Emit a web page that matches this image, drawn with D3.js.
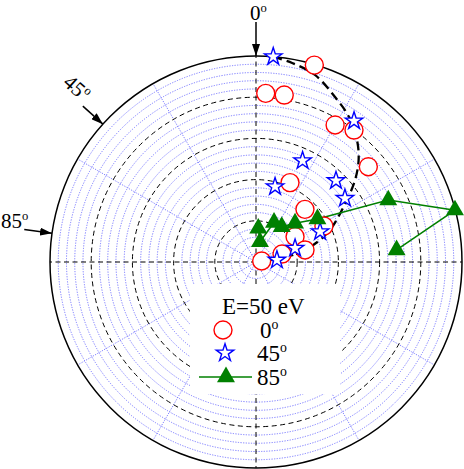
<!DOCTYPE html>
<html>
<head>
<meta charset="utf-8">
<script src="https://cdn.jsdelivr.net/npm/d3@7"></script>
<style>
body { margin: 0; background: #fff; }
</style>
</head>
<body>
<div id="chart"></div>
<script>
// polar data: angle in degrees from the top, clockwise; radius relative to outer ring
var angle0 = [16.5, 3.3, 9.6, 30.0, 36.6, 49.7, 23.2, 42.9, 57.0, 62.1, 76.2, 73.0, 80.0]
var r0 = [0.997, 0.820, 0.822, 0.768, 0.798, 0.715, 0.419, 0.349, 0.226, 0.373, 0.245, 0.132, 0.028]

var angle45 = [4.8, 34.8, 24.7, 14.2, 44.5, 54.4, 64.7, 70.6, 84.6]
var r45 = [1.0, 0.834, 0.541, 0.377, 0.554, 0.531, 0.344, 0.201, 0.102]

var angle85 = [3.9, 11.1, 24.5, 36.1, 45.2, 55.0, 64.9, 75.4, 85.1]
var r85 = [0.164, 0.100, 0.211, 0.212, 0.267, 0.364, 0.709, 0.998, 0.685]

// dashed fit curve
var fitAngle = [4.8, 10.3, 17.5, 25.6, 32.7, 39.6, 45.2, 50.4, 55.7, 66.6, 73.5, 79.4, 80.0]
var fitR = [1.0, 0.982, 0.952, 0.888, 0.836, 0.769, 0.702, 0.624, 0.534, 0.391, 0.290, 0.184, 0]

var legendLabels = ["0", "45", "85"]
var incidenceLabels = ["0", "45", "85"]
var incidenceAngles = [0, 48, 82]

var majorTicks = [0.2, 0.4, 0.6, 0.8]
var minorTicks = d3.range(1, 25).map(function(i) { return i * 0.04 }).filter(function(v) { return Math.round(v * 100) % 20 != 0 })
var spokeAngles = d3.range(0, 360, 30)

var width = 464
var height = 469
var cx = 256, cy = 262, R = 206
var serif = "\"Liberation Serif\""

var svg = d3.select("#chart").append("svg")
	.attr("width", width)
	.attr("height", height)

var r = d3.scaleLinear().domain([0, 1]).range([0, R])
var rad = function(a) { return a * Math.PI / 180 }

function px(a, v) { return cx + r(v) * Math.sin(rad(a)) }
function py(a, v) { return cy - r(v) * Math.cos(rad(a)) }

var g = svg.append("g").attr("transform", "translate(" + cx + "," + cy + ")")

// minor rings (blue dotted)
g.selectAll(".minor").data(minorTicks).enter().append("circle")
	.attr("r", function(d) { return r(d) })
	.attr("fill", "none")
	.attr("stroke", "#6a6aff")
	.attr("stroke-width", 0.9)
	.attr("stroke-dasharray", "1.2,1.4")

// spokes
g.selectAll(".spoke").data(spokeAngles.filter(function(a) { return a % 90 != 0 })).enter().append("line")
	.attr("x1", 0).attr("y1", 0)
	.attr("x2", function(a) { return r(1) * Math.sin(rad(a)) })
	.attr("y2", function(a) { return -r(1) * Math.cos(rad(a)) })
	.attr("stroke", "#6a6aff")
	.attr("stroke-width", 0.9)
	.attr("stroke-dasharray", "1.2,1.4")

// major rings (black dashed)
g.selectAll(".major").data(majorTicks).enter().append("circle")
	.attr("r", function(d) { return r(d) })
	.attr("fill", "none")
	.attr("stroke", "#000")
	.attr("stroke-width", 1)
	.attr("stroke-dasharray", "5,3.5")

g.selectAll(".axis").data(spokeAngles.filter(function(a) { return a % 90 == 0 })).enter().append("line")
	.attr("x1", 0).attr("y1", 0)
	.attr("x2", function(a) { return r(1) * Math.sin(rad(a)) })
	.attr("y2", function(a) { return -r(1) * Math.cos(rad(a)) })
	.attr("stroke", "#000")
	.attr("stroke-width", 1)
	.attr("stroke-dasharray", "5,3.5")

g.append("circle")
	.attr("r", r(1))
	.attr("fill", "none")
	.attr("stroke", "#000")
	.attr("stroke-width", 1.5)

// legend box hides grid
svg.append("rect")
	.attr("x", 190).attr("y", 284)
	.attr("width", 150).attr("height", 110)
	.attr("fill", "#fff")

// incidence arrows
svg.append("defs").append("marker")
	.attr("id", "head")
	.attr("viewBox", "0 0 12 8")
	.attr("refX", 12).attr("refY", 4)
	.attr("markerWidth", 12).attr("markerHeight", 8)
	.attr("markerUnits", "userSpaceOnUse")
	.attr("orient", "auto")
	.append("path").attr("d", "M0,0L12,4L0,8Z").attr("fill", "#000")

var arrowLen = [34, 27, 28]
incidenceAngles.forEach(function(a, i) {
	var la = -a
	svg.append("line")
		.attr("x1", px(la, 1 + arrowLen[i] / R)).attr("y1", py(la, 1 + arrowLen[i] / R))
		.attr("x2", px(la, 1)).attr("y2", py(la, 1))
		.attr("stroke", "#000")
		.attr("stroke-width", 1.5)
		.attr("marker-end", "url(#head)")
})

function addText(x, y, size) {
	return svg.append("text").attr("x", x).attr("y", y)
		.attr("font-size", size).style("font-family", serif)
}

function degLabel(sel, txt, size) {
	sel.append("tspan").text(txt)
	sel.append("tspan").text("o").attr("font-size", size * 0.6).attr("dy", -size * 0.4)
}

degLabel(addText(250, 20, 21), incidenceLabels[0], 21)
degLabel(addText(0, 0, 21).attr("transform", "translate(62,84) rotate(42)"), incidenceLabels[1], 21)
degLabel(addText(1, 228, 21), incidenceLabels[2], 21)

// data
var pts0 = angle0.map(function(a, i) { return [a, r0[i]] })
var pts45 = angle45.map(function(a, i) { return [a, r45[i]] })
var pts85 = angle85.map(function(a, i) { return [a, r85[i]] })
var fit = fitAngle.map(function(a, i) { return [a, fitR[i]] })

var star = d3.symbol().type(d3.symbolStar).size(95)
var tri = d3.symbol().type(d3.symbolTriangle).size(140)

svg.selectAll(".c0").data(pts0).enter().append("circle")
	.attr("cx", function(d) { return px(d[0], d[1]) })
	.attr("cy", function(d) { return py(d[0], d[1]) })
	.attr("r", 9)
	.attr("fill", "#fff")
	.attr("stroke", "#ff0000")
	.attr("stroke-width", 1.4)

svg.selectAll(".s45").data(pts45).enter().append("path")
	.attr("d", star)
	.attr("transform", function(d) { return "translate(" + px(d[0], d[1]) + "," + py(d[0], d[1]) + ")" })
	.attr("fill", "#fff")
	.attr("stroke", "#0000ff")
	.attr("stroke-width", 1.4)

var radial = d3.lineRadial()
	.angle(function(d) { return rad(d[0]) })
	.radius(function(d) { return r(d[1]) })

g.append("path")
	.datum(fit)
	.attr("d", radial.curve(d3.curveCatmullRom))
	.attr("fill", "none")
	.attr("stroke", "#000")
	.attr("stroke-width", 2.3)
	.attr("stroke-dasharray", "9,5")

g.append("path")
	.datum(pts85)
	.attr("d", d3.lineRadial().angle(function(d) { return rad(d[0]) }).radius(function(d) { return r(d[1]) }))
	.attr("fill", "none")
	.attr("stroke", "#008000")
	.attr("stroke-width", 1.5)

svg.selectAll(".t85").data(pts85).enter().append("path")
	.attr("d", tri)
	.attr("transform", function(d) { return "translate(" + px(d[0], d[1]) + "," + py(d[0], d[1]) + ")" })
	.attr("fill", "#008000")

// legend
addText(222, 314, 23).text("E=50 eV")
var ly = [330, 353, 377]
svg.append("circle").attr("cx", 223).attr("cy", ly[0]).attr("r", 9)
	.attr("fill", "#fff").attr("stroke", "#ff0000").attr("stroke-width", 1.4)
svg.append("path").attr("d", star).attr("transform", "translate(225," + ly[1] + ")")
	.attr("fill", "#fff").attr("stroke", "#0000ff").attr("stroke-width", 1.4)
svg.append("line").attr("x1", 199).attr("x2", 252).attr("y1", ly[2]).attr("y2", ly[2])
	.attr("stroke", "#008000").attr("stroke-width", 1.5)
svg.append("path").attr("d", tri).attr("transform", "translate(226," + ly[2] + ")").attr("fill", "#008000")

legendLabels.forEach(function(l, i) {
	degLabel(addText(l.length > 1 ? 257 : 260, ly[i] + 8, 23), l, 23)
})
</script>
</body>
</html>
